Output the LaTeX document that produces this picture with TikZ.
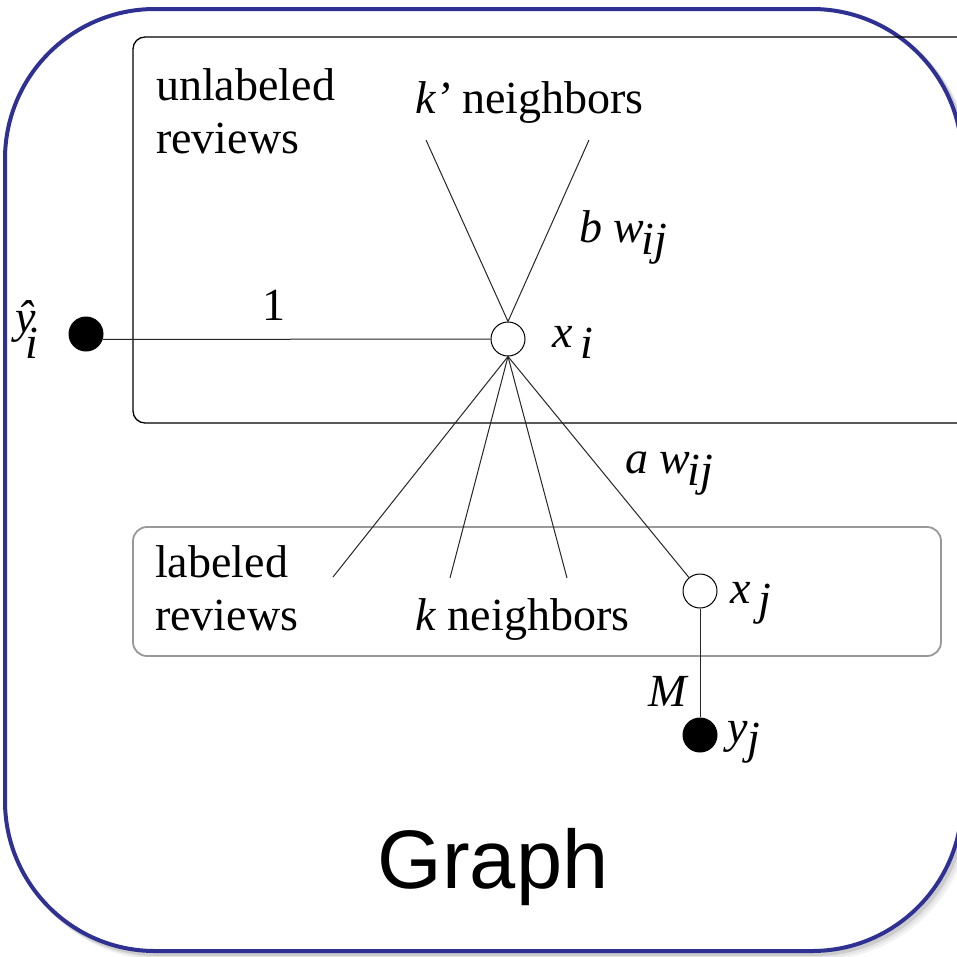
\documentclass[tikz,border=0pt]{standalone}
\usepackage{fontspec}
\setmainfont{Liberation Serif}
\newfontfamily\graphfont{Liberation Sans}
\definecolor{outerblue}{RGB}{46,49,146}
\begin{document}
\begin{tikzpicture}[x=1pt,y=-1pt,
  lab/.style={inner sep=0pt, anchor=base west, font=\fontsize{46}{53}\selectfont},
  emptynode/.style={circle, draw, line width=1pt, minimum size=34pt, inner sep=0pt},
  fullnode/.style={circle, fill=black, minimum size=35pt, inner sep=0pt},
  edgeline/.style={line width=1pt, draw=black!85},
]
\useasboundingbox (0,0) rectangle (957,956);
\begin{scope}
\clip (0,0) rectangle (957,956);
\foreach \o/\c in {7/black!5, 5/black!10, 3/black!20}{
  \draw[line width=4pt, \c, rounded corners=150pt] (5+\o,9+\o) rectangle (962+\o,951+\o);
}
\draw[line width=4pt, draw=outerblue, fill=white, rounded corners=150pt] (5,9) rectangle (962,951);
\draw[line width=1.3pt, rounded corners=12pt] (133,37) rectangle (1000,423);
\end{scope}
\draw[line width=1.8pt, black!40, rounded corners=14pt] (133,527) rectangle (941,656);

\node[fullnode] (yhat) at (86,334) {};
\node[emptynode] (xi) at (508,339) {};
\node[emptynode] (xj) at (700,591) {};
\node[fullnode] (yj) at (700,735) {};

\coordinate (ku1) at (426,140);
\coordinate (ku2) at (589,140);
\coordinate (kl1) at (333,577);
\coordinate (kl2) at (450,578);
\coordinate (kl3) at (567,578);

\draw[edgeline] (yhat.-18) -- (xi.west);
\draw[edgeline] (xi.north) -- (ku1);
\draw[edgeline] (xi.north) -- (ku2);
\draw[edgeline] (xi.south) -- (kl1);
\draw[edgeline] (xi.south) -- (kl2);
\draw[edgeline] (xi.south) -- (kl3);
\draw[edgeline] (xi.south) -- (xj);
\draw[edgeline] (xj) -- (yj);

\node[lab, align=left] (tunl) at (156,153) {unlabeled\\reviews};
\node[lab] (tkp) at (415,113) {\textit{k’} neighbors};
\node[lab] (tb) at (579,242) {\textit{b} \textit{w}\kern-3pt\raisebox{-12pt}{\textit{ij}}};
\node[lab] (t1) at (262,320) {1};
\node[lab] (txi) at (552,347) {\textit{x}\,\raisebox{-11pt}{\textit{i}}};
\node[lab] (taw) at (625,473) {\textit{a} \textit{w}\kern-3pt\raisebox{-12pt}{\textit{ij}}};
\node[lab, align=left] (tlab) at (155,630) {labeled\\reviews};
\node[lab] (tk) at (415,630) {\textit{k} neighbors};
\node[lab] (txj) at (730,603) {\textit{x}\,\raisebox{-11pt}{\textit{j}}};
\node[lab] (tM) at (648,706) {\textit{M}};
\node[lab] (tyj) at (727,742) {\textit{y}\raisebox{-11pt}{\textit{j}}};
\node[lab] (tyh) at (15,332) {\textit{\^y}\kern-10pt\raisebox{-26pt}{\textit{i}}};
\node[inner sep=0pt, anchor=base, font=\graphfont\fontsize{83}{90}\selectfont] (tg) at (493,888) {Graph};
\end{tikzpicture}
\end{document}
